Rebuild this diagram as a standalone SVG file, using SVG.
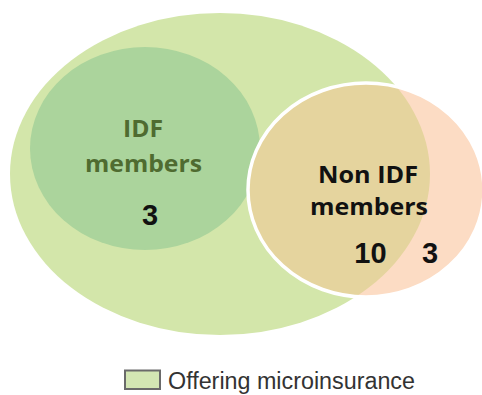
<svg xmlns="http://www.w3.org/2000/svg" width="482" height="395" viewBox="0 0 482 395">
<style>
.lbl{font-family:"Open Sans","DejaVu Sans",sans-serif;font-weight:bold;text-anchor:middle}
.num{font-family:"Liberation Sans",Arial,sans-serif;font-weight:bold;font-size:29px;fill:#111;text-anchor:middle}
.leg{font-family:"Liberation Sans",Arial,sans-serif;font-size:23px;fill:#333}
</style>
<defs>
<clipPath id="pinkClip"><ellipse cx="366" cy="190" rx="118" ry="107"/></clipPath>
</defs>
<rect width="482" height="395" fill="#ffffff"/>
<g id="offering">
<ellipse cx="220" cy="174" rx="210" ry="161" fill="#d3e6aa"/>
</g>
<g id="idf">
<ellipse cx="145" cy="148.5" rx="115" ry="101.5" fill="#abd49c"/>
<text class="lbl" x="143" y="137" font-size="24" fill="#4f6b30" textLength="40" lengthAdjust="spacingAndGlyphs">IDF</text>
<text class="lbl" x="143.5" y="172" font-size="24" fill="#4f6b30" textLength="117" lengthAdjust="spacingAndGlyphs">members</text>
<text class="num" x="150" y="225">3</text>
</g>
<g id="nonidf">
<ellipse cx="366" cy="190" rx="118" ry="107" fill="#fcdcc4"/>
<ellipse cx="220" cy="174" rx="210" ry="161" fill="#e5d49e" clip-path="url(#pinkClip)"/>
<ellipse cx="366" cy="190" rx="118" ry="107" fill="none" stroke="#ffffff" stroke-width="3.5"/>
<text class="lbl" x="368" y="183" font-size="24" fill="#111" textLength="100" lengthAdjust="spacingAndGlyphs">Non IDF</text>
<text class="lbl" x="369" y="215" font-size="24" fill="#111" textLength="118" lengthAdjust="spacingAndGlyphs">members</text>
<text class="num" x="370.5" y="263">10</text>
<text class="num" x="430" y="263">3</text>
</g>
<g id="legend">
<rect x="125" y="370.5" width="35" height="18.5" fill="#d3e6b3" stroke="#6a6a6a" stroke-width="2"/>
<text class="leg" x="168" y="389" textLength="247" lengthAdjust="spacingAndGlyphs">Offering microinsurance</text>
</g>
</svg>
